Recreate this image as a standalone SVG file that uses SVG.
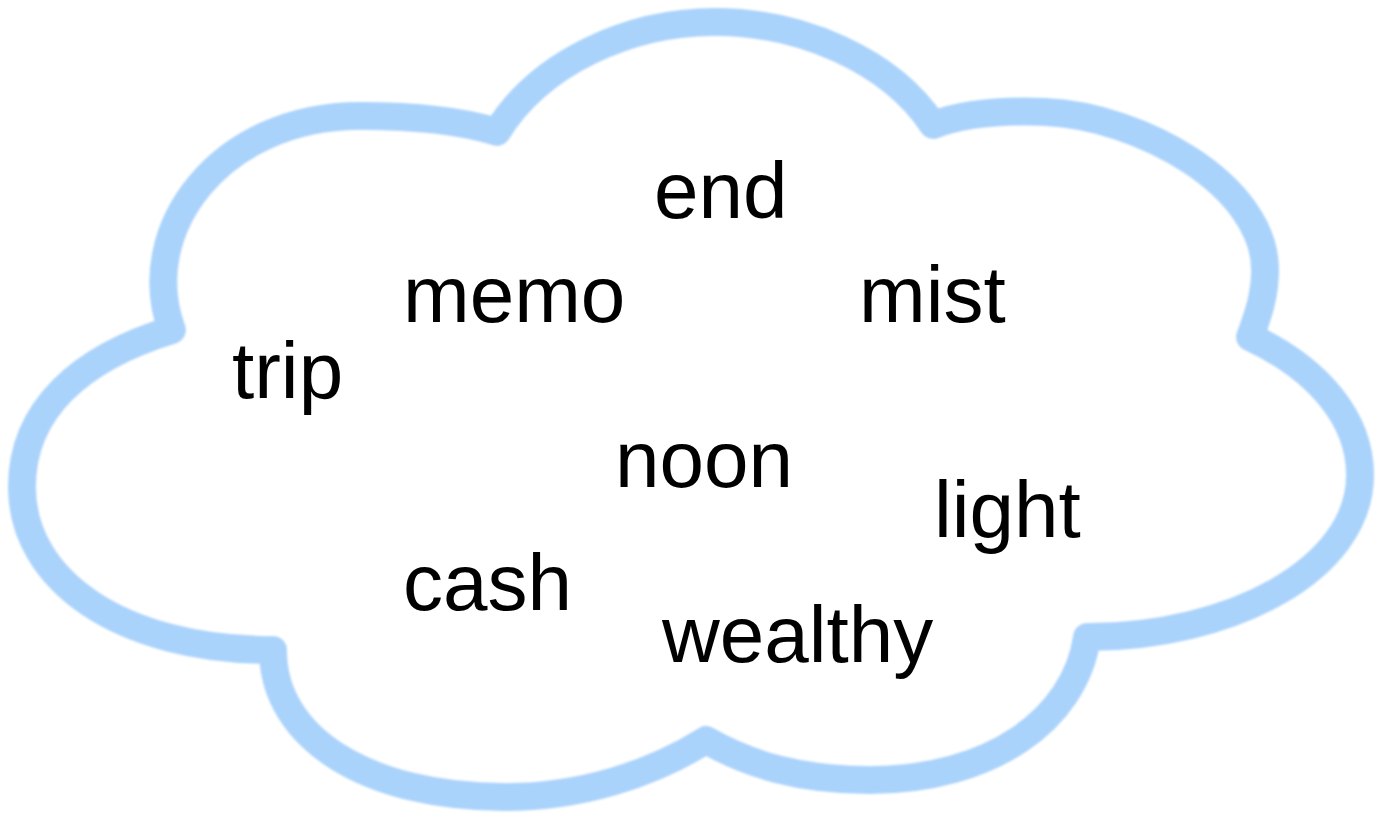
<svg xmlns="http://www.w3.org/2000/svg" width="1385" height="821" viewBox="0 0 1385 821">
<defs>
<filter id="soft" x="-5%" y="-5%" width="110%" height="110%"><feGaussianBlur stdDeviation="1"/></filter>
</defs>
<style>
.cloud{fill:#ffffff;stroke:#aad3fc;stroke-width:28;stroke-linejoin:round}
.w{font-family:"Liberation Sans",Arial,sans-serif;font-size:80px;fill:#000000}
</style>
<rect width="1385" height="821" fill="#ffffff"/>
<g id="cloud">
<path class="cloud" filter="url(#soft)" d="M 172,330 C 135,230 220,116 360,116 C 420,116 465,122 497,132 C 540,62 630,22 715,22 C 800,22 890,60 933,125 C 960,115 995,110 1045,112 C 1140,116 1265,185 1265,270 C 1265,298 1256,320 1250,337 C 1320,370 1360,420 1360,475 C 1360,570 1230,637 1087,637 C 1075,720 990,780 870,780 C 800,780 750,765 706,740 C 650,775 580,797 505,797 C 370,797 273,740 273,650 C 120,650 22,580 22,487 C 22,410 80,358 172,330 Z"/>
</g>
<g id="words">
<text id="end" class="w" x="654" y="218">end</text>
<text id="memo" class="w" x="403" y="322">memo</text>
<text id="mist" class="w" x="859" y="322">mist</text>
<text id="trip" class="w" x="232" y="398">trip</text>
<text id="noon" class="w" x="615" y="487">noon</text>
<text id="light" class="w" x="934" y="537">light</text>
<text id="cash" class="w" x="403" y="610">cash</text>
<text id="wealthy" class="w" x="662" y="662">wealthy</text>
</g>
</svg>
